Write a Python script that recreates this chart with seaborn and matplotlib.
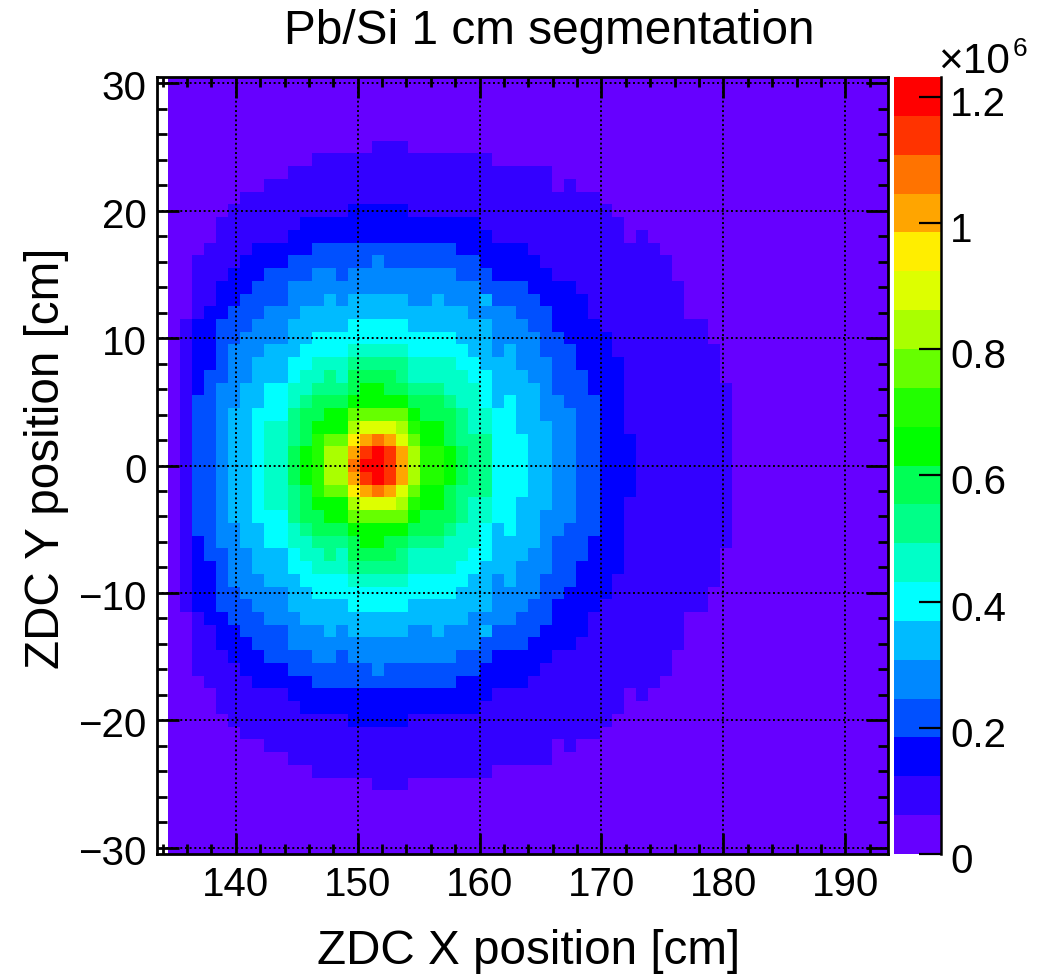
import numpy as np
import matplotlib
matplotlib.use("Agg")
import matplotlib.pyplot as plt
import seaborn as sns
from matplotlib.colors import ListedColormap
from matplotlib.transforms import ScaledTranslation

plt.rcParams['font.family'] = ['Liberation Sans', 'DejaVu Sans']

# 61 x 61 bins, contour level of each bin. Every row is "start_col:level" runs, top row first
band_rows = [
    "1:0", "1:0", "1:0", "1:0", "1:0",
    "1:0 18:1 21:0",
    "1:0 13:1 28:0",
    "1:0 11:1 33:0",
    "1:0 9:1 33:0 34:1 35:0",
    "1:0 7:1 37:0",
    "1:0 6:1 16:2 21:1 38:0",
    "1:0 5:1 12:2 27:1 39:0",
    "1:0 5:1 11:2 28:1 39:0 40:1 41:0",
    "1:0 4:1 8:2 13:3 25:2 31:1 42:0",
    "1:0 3:1 7:2 11:3 18:4 19:3 27:2 32:1 43:0",
    "1:0 3:1 6:2 9:3 13:4 15:3 16:4 25:3 28:2 33:1 43:0",
    "1:0 3:1 5:2 8:3 11:4 27:3 31:2 35:1 44:0",
    "1:0 3:1 5:2 7:3 11:4 14:5 15:4 16:5 21:4 23:5 24:4 27:5 28:3 32:2 36:1 44:0",
    "1:0 3:1 4:2 6:3 9:4 12:5 26:4 30:3 33:2 36:1 44:0",
    "1:0 2:1 3:2 5:3 8:4 11:5 16:6 21:5 28:4 31:3 33:2 37:1 46:0",
    "1:0 2:1 3:2 5:3 7:4 11:5 13:6 25:5 28:4 32:3 34:2 38:1 46:0",
    "1:0 2:1 3:2 5:3 6:4 9:5 12:6 16:7 21:6 26:5 28:4 29:5 30:4 32:3 35:2 38:1 47:0",
    "1:0 2:1 3:2 5:3 6:4 8:5 11:6 13:7 16:8 21:7 25:6 27:5 30:4 33:3 35:2 39:1 47:0",
    "1:0 2:1 3:2 4:3 6:4 8:5 11:6 12:7 14:8 15:7 16:9 20:8 21:7 26:6 28:5 31:4 33:3 36:2 39:1 47:0",
    "1:0 2:1 3:2 4:3 5:4 7:5 9:6 11:7 13:8 16:9 17:10 19:9 21:8 24:7 27:6 28:5 32:4 33:3 36:2 39:1 48:0",
    "1:0 2:1 3:3 5:4 7:5 9:6 11:7 12:8 13:9 16:10 21:9 24:8 25:7 27:6 28:5 29:6 30:5 32:4 34:3 37:2 39:1 48:0",
    "1:0 2:1 3:3 5:4 6:5 8:6 11:8 12:9 14:10 16:12 21:10 22:9 25:8 26:7 28:6 30:5 32:4 35:3 37:2 39:1 48:0",
    "1:0 2:1 3:3 5:4 6:5 8:6 9:7 11:8 12:9 13:10 16:13 17:14 20:13 21:11 22:10 24:9 25:8 26:7 28:6 30:5 33:4 35:3 37:2 39:1 48:0",
    "1:0 2:1 3:3 5:4 6:5 8:6 9:7 11:8 12:9 13:11 14:12 16:15 17:16 18:17 19:16 20:14 21:12 22:10 24:9 25:8 28:6 31:5 33:4 35:3 37:2 40:1 48:0",
    "1:0 2:1 3:3 5:4 6:5 8:6 9:7 11:9 12:10 13:11 14:13 16:16 17:18 18:19 19:18 20:16 21:13 22:11 24:10 25:9 26:8 28:6 31:5 33:4 35:3 37:2 40:1 48:0",
    "1:0 2:1 3:3 5:4 6:5 8:6 9:7 11:9 12:10 13:11 14:13 16:17 17:19 19:18 20:16 21:13 22:11 24:10 25:9 26:8 28:6 31:5 33:4 35:3 37:2 40:1 48:0",
    "1:0 2:1 3:3 5:4 6:5 8:6 9:7 11:9 12:10 13:11 14:13 16:16 17:18 18:19 19:18 20:16 21:13 22:11 24:10 25:9 26:8 28:6 31:5 33:4 35:3 37:2 40:1 48:0",
    "1:0 2:1 3:3 5:4 6:5 8:6 9:7 11:8 12:9 13:11 14:12 16:15 17:16 18:17 19:16 20:14 21:12 22:10 24:9 25:8 28:6 31:5 33:4 35:3 37:2 40:1 48:0",
    "1:0 2:1 3:3 5:4 6:5 8:6 9:7 11:8 12:9 13:10 16:13 17:14 20:13 21:11 22:10 24:9 25:8 26:7 28:6 30:5 33:4 35:3 37:2 39:1 48:0",
    "1:0 2:1 3:3 5:4 6:5 8:6 11:8 12:9 14:10 16:12 21:10 22:9 25:8 26:7 28:6 30:5 32:4 35:3 37:2 39:1 48:0",
    "1:0 2:1 3:3 5:4 7:5 9:6 11:7 12:8 13:9 16:10 21:9 24:8 25:7 27:6 28:5 29:6 30:5 32:4 34:3 37:2 39:1 48:0",
    "1:0 2:1 3:2 4:3 5:4 7:5 9:6 11:7 13:8 16:9 17:10 19:9 21:8 24:7 27:6 28:5 32:4 33:3 36:2 39:1 48:0",
    "1:0 2:1 3:2 4:3 6:4 8:5 11:6 12:7 14:8 15:7 16:9 20:8 21:7 26:6 28:5 31:4 33:3 36:2 39:1 47:0",
    "1:0 2:1 3:2 5:3 6:4 8:5 11:6 13:7 16:8 21:7 25:6 27:5 30:4 33:3 35:2 39:1 47:0",
    "1:0 2:1 3:2 5:3 6:4 9:5 12:6 16:7 21:6 26:5 28:4 29:5 30:4 32:3 35:2 38:1 47:0",
    "1:0 2:1 3:2 5:3 7:4 11:5 13:6 25:5 28:4 32:3 34:2 38:1 46:0",
    "1:0 2:1 3:2 5:3 8:4 11:5 16:6 21:5 28:4 31:3 33:2 37:1 46:0",
    "1:0 3:1 4:2 6:3 9:4 12:5 26:4 30:3 33:2 36:1 44:0",
    "1:0 3:1 5:2 7:3 11:4 14:5 15:4 16:5 21:4 23:5 24:4 27:5 28:3 32:2 36:1 44:0",
    "1:0 3:1 5:2 8:3 11:4 27:3 31:2 35:1 44:0",
    "1:0 3:1 6:2 9:3 13:4 15:3 16:4 25:3 28:2 33:1 43:0",
    "1:0 3:1 7:2 11:3 18:4 19:3 27:2 32:1 43:0",
    "1:0 4:1 8:2 13:3 25:2 31:1 42:0",
    "1:0 5:1 11:2 28:1 39:0 40:1 41:0",
    "1:0 5:1 12:2 27:1 39:0",
    "1:0 6:1 16:2 21:1 38:0",
    "1:0 7:1 37:0",
    "1:0 9:1 33:0 34:1 35:0",
    "1:0 11:1 33:0",
    "1:0 13:1 28:0",
    "1:0 18:1 21:0",
    "1:0", "1:0", "1:0", "1:0", "1:0",
]

band_colors = ["#6600ff", "#3300ff", "#0000ff", "#0050ff", "#0088ff",
               "#00bbff", "#00ffff", "#00ffc8", "#00ff88", "#00ff55",
               "#00ff00", "#22ff00", "#66ff00", "#aaff00", "#ddff00",
               "#ffee00", "#ffa500", "#ff7300", "#ff3300", "#ff0000"]

z_max = 1.231e6
cbar_values = [0, 0.2e6, 0.4e6, 0.6e6, 0.8e6, 1.0e6, 1.2e6]
cbar_labels = ["0", "0.2", "0.4", "0.6", "0.8", "1", "1.2"]

x_range = [133.5, 193.5]
y_range = [-30.5, 30.5]
x_major = [140, 150, 160, 170, 180, 190]
x_labels = ["140", "150", "160", "170", "180", "190"]
x_minor = [134, 136, 138, 142, 144, 146, 148, 152, 154, 156, 158, 162, 164, 166, 168,
           172, 174, 176, 178, 182, 184, 186, 188, 192]
y_major = [30, 20, 10, 0, -10, -20, -30]
y_labels = ["30", "20", "10", "0", "\u221210", "\u221220", "\u221230"]
y_minor = [28, 26, 24, 22, 18, 16, 14, 12, 8, 6, 4, 2, -2, -4, -6, -8,
           -12, -14, -16, -18, -22, -24, -26, -28]

# build the bin table, the first column stays empty (white in the reference)
n_bins = len(band_rows)
grid = np.full((n_bins, n_bins), np.nan)
for r, row in enumerate(band_rows):
    runs = [tuple(int(v) for v in part.split(":")) for part in row.split()]
    for i, (start, level) in enumerate(runs):
        stop = runs[i + 1][0] if i + 1 < len(runs) else n_bins
        grid[r, start:stop] = (level + 0.5) * z_max / len(band_colors)

W, H = 1048, 977
fig = plt.figure(figsize=(W / 100, H / 100), dpi=100)
ax = fig.add_axes([156.5 / W, 1 - 854 / H, 731.5 / W, 777 / H])
cax = fig.add_axes([893.5 / W, 1 - 854 / H, 47 / W, 777 / H])

sns.heatmap(grid, ax=ax, cbar_ax=cax, cmap=ListedColormap(band_colors), vmin=0, vmax=z_max,
            xticklabels=False, yticklabels=False)


def to_col(x):
    return (np.array(x) - x_range[0]) * n_bins / (x_range[1] - x_range[0])


def to_row(y):
    return (y_range[1] - np.array(y)) * n_bins / (y_range[1] - y_range[0])


ax.set_xticks(to_col(x_major))
ax.set_xticklabels(x_labels)
ax.set_xticks(to_col(x_minor), minor=True)
ax.set_yticks(to_row(y_major))
ax.set_yticklabels(y_labels, rotation=0)
ax.set_yticks(to_row(y_minor), minor=True)

ax.tick_params(which='major', axis='x', direction='in', top=True, bottom=True, length=15, width=2,
               labelsize=29, pad=9)
ax.tick_params(which='major', axis='y', direction='in', left=True, right=True, length=16, width=2,
               labelsize=29, pad=7)
ax.tick_params(which='minor', direction='in', top=True, bottom=True, left=True, right=True,
               length=7.5, width=2)

ax.set_axisbelow(False)
ax.grid(True, which='major', color='black', linestyle=(0, (1, 1.4)), linewidth=1.4)
for side in ax.spines:
    ax.spines[side].set_visible(True)
    ax.spines[side].set_linewidth(2)
    ax.spines[side].set_color('black')

# colour scale
cbar = ax.collections[0].colorbar
cbar.outline.set_visible(False)
cbar.set_ticks(cbar_values)
cbar.set_ticklabels(cbar_labels)
cax.tick_params(axis='y', direction='in', length=16, width=1.6, labelsize=29, pad=7, right=True)
cax.spines['right'].set_visible(True)
cax.spines['right'].set_linewidth(1.8)

# the reference labels sit a little under their ticks
down = ScaledTranslation(0, -4 / 100, fig.dpi_scale_trans)
for label in cax.get_yticklabels():
    label.set_transform(label.get_transform() + down)
down_small = ScaledTranslation(0, -2 / 100, fig.dpi_scale_trans)
for label in ax.get_yticklabels():
    label.set_transform(label.get_transform() + down_small)

fig.text(529 / W, 1 - 952 / H, "ZDC X position [cm]", fontsize=34.3, ha='center', va='center')
fig.text(47 / W, 1 - 458 / H, "ZDC Y position [cm]", fontsize=34.3, rotation=90, ha='center', va='center')
fig.text(549.5 / W, 1 - 31 / H, "Pb/Si 1 cm segmentation", fontsize=34.4, ha='center', va='center')
fig.text(938 / W, 1 - 73 / H, "\u00d710", fontsize=30.5, ha='left', va='baseline')
fig.text(1013 / W, 1 - 56 / H, "6", fontsize=19, ha='left', va='baseline')

fig.savefig("out.png", dpi=100)
